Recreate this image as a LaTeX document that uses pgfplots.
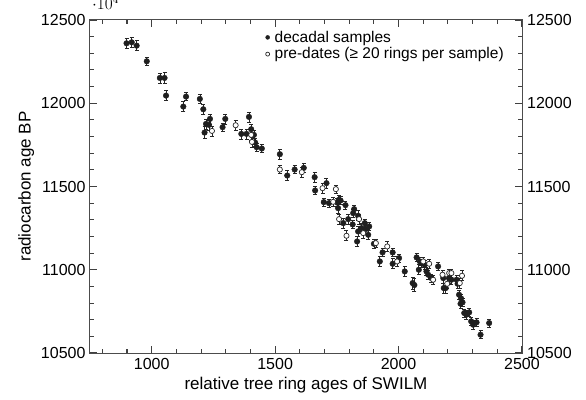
\documentclass[border=0pt]{standalone}
\usepackage{fontspec}
\setmainfont{Liberation Sans}
\usepackage{pgfplots}
\pgfplotsset{compat=1.18}
\usepackage{pgfplotstable}

\pgfplotstableread{
x y e
898 12360 30
919 12366 30
939 12346 30
980 12252 25
1033 12152 30
1052 12152 35
1058 12046 30
1128 11980 30
1139 12040 25
1195 12026 25
1209 11964 30
1214 11824 35
1220 11876 30
1232 11870 30
1236 11906 30
1287 11856 25
1298 11906 30
1363 11816 30
1384 11816 30
1394 11918 30
1403 11844 30
1414 11810 30
1419 11764 25
1425 11736 25
1446 11728 25
1519 11694 30
1549 11566 30
1579 11602 25
1616 11612 25
1660 11556 30
1662 11476 25
1697 11406 25
1708 11520 30
1718 11400 25
1751 11404 25
1758 11420 25
1765 11416 25
1755 11370 30
1776 11280 30
1785 11388 25
1796 11304 30
1814 11272 25
1816 11340 25
1820 11364 25
1832 11170 30
1836 11324 30
1836 11230 30
1850 11250 30
1863 11280 25
1867 11244 25
1877 11210 30
1881 11260 25
1900 11156 25
1924 11050 30
1935 11104 25
1976 11104 25
1976 11036 30
2002 11070 25
2025 10990 30
2057 10920 35
2064 10908 40
2073 11074 25
2082 11000 30
2086 11050 25
2094 11040 25
2106 11030 25
2113 10990 25
2120 10970 25
2133 10950 25
2160 11020 25
2181 10950 30
2183 10890 30
2191 10890 30
2204 10950 30
2214 10940 30
2235 10940 25
2239 10916 30
2245 10850 25
2253 10828 25
2259 10804 25
2251 10796 25
2266 10740 25
2275 10730 25
2286 10744 25
2294 10690 25
2302 10670 25
2316 10684 25
2332 10610 25
2367 10680 25
}\decadal

\pgfplotstableread{
x y e
1244 11834 30
1340 11868 30
1403 11810 30
1406 11768 30
1519 11602 25
1608 11586 30
1692 11490 30
1746 11484 25
1735 11408 25
1759 11304 30
1789 11204 30
1840 11304 30
1857 11220 30
1908 11160 25
1954 11140 30
1994 11050 30
2100 11050 25
2124 11036 25
2140 10940 25
2178 10970 25
2197 10916 30
2205 10980 25
2214 10980 25
2248 10920 30
2257 10964 30
}\predates

\begin{document}
\begin{tikzpicture}
\path[use as bounding box] (-90pt,-46pt) rectangle (496pt,353pt);
\begin{axis}[
    scale only axis, width=432pt, height=333pt,
    xmin=750, xmax=2500, ymin=10500, ymax=12500,
    axis line style={black!70, line width=1pt},
    major tick style={black!75, line width=1.2pt},
    minor tick style={black!75, line width=1.1pt},
    major tick length=7pt, minor tick length=4pt,
    xtick={1000,1500,2000,2500}, ytick={10500,11000,11500,12000,12500},
    xticklabels={1000,1500,2000,2500},
    yticklabels={10500,11000,11500,12000,12500},
    minor xtick={800,900,...,2400}, minor ytick={10600,10700,...,12400},
    tick label style={font=\fontsize{16}{19}\selectfont},
  xlabel={relative tree ring ages of SWILM},
  ylabel={radiocarbon age BP},
  label style={font=\fontsize{17}{20}\selectfont},
  xticklabel style={yshift=-2pt},
  yticklabel style={xshift=-1pt},
  legend style={at={(axis description cs:0.405,0.975)}, anchor=north west,
    draw=none, fill=none, font=\fontsize{15.5}{17}\selectfont,
    row sep=0pt, inner sep=0.5pt},
  legend cell align=left,
  legend image code/.code={\draw[mark repeat=2,mark phase=2,#1,mark size=2pt]
     plot coordinates {(0cm,0cm)(0.16cm,0cm)(0.32cm,0cm)};},
]
\addplot+[only marks, mark=*, mark size=2.8pt,
  mark options={fill=black!88, draw=black!88},
  error bars/.cd, y dir=both, y explicit,
  error bar style={black!85, line width=0.7pt},
  error mark options={rotate=90, mark size=2pt, black!85, line width=0.7pt}]
  table[x=x, y=y, y error=e] {\decadal};
\addlegendentry{\hspace{3pt}decadal samples}
\addplot+[only marks, mark=*, mark size=2.6pt,
  mark options={fill=white, draw=black!85, line width=0.7pt},
  error bars/.cd, y dir=both, y explicit,
  error bar style={black!85, line width=0.7pt},
  error mark options={rotate=90, mark size=2pt, black!85, line width=0.7pt}]
  table[x=x, y=y, y error=e] {\predates};
\addlegendentry{\hspace{3pt}pre-dates (≥ 20 rings per sample)}
\end{axis}
\foreach \v/\yy in {10500/0, 11000/83.25, 11500/166.5, 12000/249.75, 12500/333}
  \node[anchor=west, inner sep=0pt, font=\fontsize{16}{19}\selectfont] at (437pt,\yy pt) {\v};
\end{tikzpicture}
\end{document}
